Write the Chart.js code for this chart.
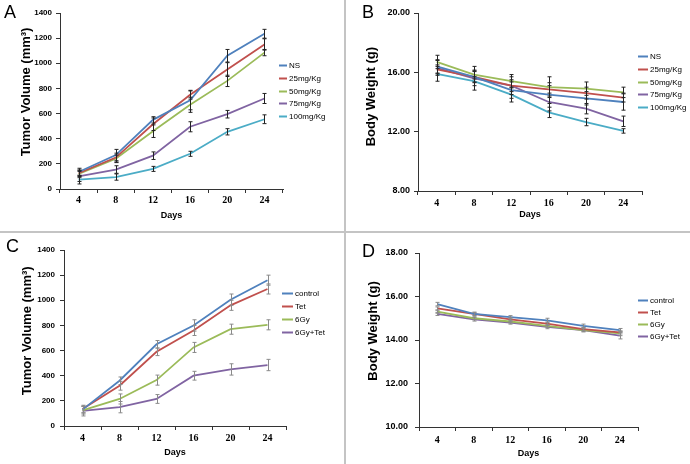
<!DOCTYPE html>
<html>
<head>
<meta charset="utf-8">
<script src="https://cdn.jsdelivr.net/npm/chart.js@4.4.1/dist/chart.umd.min.js"></script>
<style>
  body { margin: 0; background: #fff; }
  #wrap { position: relative; width: 690px; height: 464px; overflow: hidden; }
  #wrap canvas { position: absolute; }
  .letter { position: absolute; font: 18px "Liberation Sans", Arial, sans-serif; line-height: 18px; color: #000; }
  .vline { position: absolute; left: 344px; top: 0; width: 2px; height: 464px; background: #c4c4c4; }
  .hline { position: absolute; left: 0; top: 231px; width: 690px; height: 2px; background: #c4c4c4; }
</style>
</head>
<body>
<div id="wrap">
  <canvas id="chartA" width="345" height="232" style="left:0;top:0"></canvas>
  <canvas id="chartB" width="345" height="232" style="left:345px;top:0"></canvas>
  <canvas id="chartC" width="345" height="232" style="left:0;top:232px"></canvas>
  <canvas id="chartD" width="345" height="232" style="left:345px;top:232px"></canvas>
  <div class="vline"></div>
  <div class="hline"></div>
  <div class="letter" style="left:4px;top:3px">A</div>
  <div class="letter" style="left:362px;top:3px">B</div>
  <div class="letter" style="left:6px;top:237px">C</div>
  <div class="letter" style="left:362px;top:242px">D</div>
</div>
<script>
const days = ["4", "8", "12", "16", "20", "24"];
const doseGroups = ["NS", "25mg/Kg", "50mg/Kg", "75mg/Kg", "100mg/Kg"];
const comboGroups = ["control", "Tet", "6Gy", "6Gy+Tet"];

// A: tumor volume by dose (mm3)
const doseVolume = [
  [135, 270, 550, 705, 1060, 1235],
  [125, 250, 515, 750, 950, 1150],
  [120, 240, 460, 670, 860, 1085],
  [100, 155, 265, 495, 595, 720],
  [75, 95, 160, 280, 455, 555]
];
const doseVolumeErr = [
  [30, 45, 25, 75, 50, 35],
  [25, 35, 50, 35, 55, 45],
  [30, 30, 50, 60, 45, 25],
  [40, 30, 30, 40, 30, 40],
  [35, 25, 20, 20, 25, 35]
];

// B: body weight by dose (g)
const doseWeight = [
  [16.4, 15.7, 14.8, 14.5, 14.25, 14.0],
  [16.2, 15.7, 15.1, 14.85, 14.6, 14.3],
  [16.7, 15.85, 15.4, 15.0, 14.9, 14.65],
  [16.3, 15.6, 15.1, 14.0, 13.55, 12.7],
  [15.9, 15.4, 14.5, 13.3, 12.65, 12.05]
];
const doseWeightErr = [
  [0.45, 0.4, 0.55, 0.6, 0.45, 0.55],
  [0.3, 0.35, 0.4, 0.45, 0.4, 0.3],
  [0.45, 0.3, 0.45, 0.7, 0.45, 0.35],
  [0.5, 0.8, 0.6, 0.6, 0.35, 0.35],
  [0.5, 0.3, 0.5, 0.35, 0.25, 0.15]
];

// C: tumor volume, combination (mm3)
const comboVolume = [
  [130, 360, 650, 800, 1005, 1160],
  [135, 320, 590, 760, 960, 1090],
  [125, 215, 365, 625, 770, 805],
  [120, 150, 215, 400, 450, 485]
];
const comboVolumeErr = [
  [25, 30, 30, 45, 45, 40],
  [30, 35, 30, 40, 40, 40],
  [30, 40, 40, 40, 40, 40],
  [40, 45, 35, 35, 45, 45]
];

// D: body weight, combination (g)
const comboWeight = [
  [15.65, 15.2, 15.05, 14.9, 14.65, 14.45],
  [15.45, 15.2, 14.95, 14.75, 14.5, 14.35],
  [15.3, 15.0, 14.85, 14.65, 14.45, 14.3],
  [15.2, 14.95, 14.8, 14.6, 14.45, 14.2]
];
const comboWeightErr = [
  [0.08, 0.08, 0.07, 0.1, 0.08, 0.08],
  [0.07, 0.07, 0.08, 0.08, 0.07, 0.07],
  [0.07, 0.07, 0.07, 0.07, 0.07, 0.1],
  [0.07, 0.08, 0.07, 0.08, 0.07, 0.15]
];

const colors = ["#4F81BD", "#C0504D", "#9BBB59", "#8064A2", "#4BACC6"];
const axisColor = "#333";
const SANS = "'Liberation Sans', Arial, sans-serif";
const SERIF = "'Liberation Serif', 'Times New Roman', serif";

// vertical error bars drawn through the chart's own scales
const errorBars = {
  id: "errorBars",
  afterDatasetsDraw(chart, args, o) {
    const { ctx, scales: { x, y } } = chart;
    ctx.save();
    ctx.strokeStyle = o.color;
    ctx.lineWidth = 1;
    chart.data.datasets.forEach(ds => {
      ds.data.forEach((v, i) => {
        const e = ds.errors[i];
        const px = Math.round(x.getPixelForValue(i)) + 0.5;
        const top = y.getPixelForValue(v + e);
        const bot = y.getPixelForValue(v - e);
        ctx.beginPath();
        ctx.moveTo(px, top); ctx.lineTo(px, bot);
        ctx.moveTo(px - 2, top); ctx.lineTo(px + 2, top);
        ctx.moveTo(px - 2, bot); ctx.lineTo(px + 2, bot);
        ctx.stroke();
      });
    });
    ctx.restore();
  }
};

// Excel-like legend at the right side
const sideLegend = {
  id: "sideLegend",
  afterDraw(chart, args, o) {
    const ctx = chart.ctx;
    ctx.save();
    ctx.font = "8px " + SANS;
    ctx.textBaseline = "middle";
    ctx.fillStyle = "#000";
    chart.data.datasets.forEach((ds, i) => {
      const y = Math.round(o.y + i * o.gap) + 0.5;
      ctx.strokeStyle = ds.borderColor;
      ctx.lineWidth = 2;
      ctx.beginPath();
      ctx.moveTo(o.x, y);
      ctx.lineTo(o.x + o.len, y);
      ctx.stroke();
      ctx.fillText(ds.label, o.x + o.len + 2, y);
    });
    ctx.restore();
  }
};

function makeChart(id, groups, values, errors, p) {
  const datasets = groups.map((g, i) => ({
    label: g,
    data: values[i],
    errors: errors[i],
    borderColor: colors[i],
    backgroundColor: colors[i],
    borderWidth: 1.8,
    pointRadius: 0,
    tension: 0
  }));

  // leading spaces nudge the rotated title upwards, like the original
  const yTitle = " ".repeat(p.titleShift) + p.yTitle;

  return new Chart(document.getElementById(id), {
    type: "line",
    data: { labels: days, datasets },
    plugins: [errorBars, sideLegend],
    options: {
      responsive: false,
      animation: false,
      layout: { padding: { left: 0, top: p.top, right: p.right, bottom: 0 } },
      plugins: {
        legend: { display: false },
        tooltip: { enabled: false },
        errorBars: { color: p.errColor },
        sideLegend: p.legend
      },
      scales: {
        x: {
          offset: true,
          border: { display: true, color: axisColor, width: 1 },
          grid: { drawOnChartArea: false, offset: true, tickLength: 4, color: axisColor },
          ticks: { color: "#000", padding: p.xTickPad, maxRotation: 0,
                   font: { family: SERIF, size: 10, weight: "bold" } },
          title: { display: true, text: "Days", color: "#000",
                   font: { family: SANS, size: 9, weight: "bold" },
                   padding: { top: 0, bottom: p.daysPad } },
          afterFit(s) { s.height = p.xH; }
        },
        y: {
          min: p.min, max: p.max,
          border: { display: true, color: axisColor, width: 1 },
          grid: { drawOnChartArea: false, tickLength: 4, color: axisColor },
          ticks: { stepSize: p.step, color: "#000", padding: p.yTickPad,
                   font: { family: SANS, size: p.yTickSize, weight: "bold" },
                   callback: v => p.decimals ? v.toFixed(2) : v },
          title: { display: true, text: yTitle, color: "#000",
                   font: { family: SANS, size: 13, weight: "bold" },
                   padding: { top: p.yTitlePad, bottom: 0 } },
          afterFit(s) { s.width = p.yW; }
        }
      }
    }
  });
}

makeChart("chartA", doseGroups, doseVolume, doseVolumeErr, {
  top: 13, right: 62, yW: 60, xH: 43, min: 0, max: 1400, step: 200, decimals: false,
  yTitle: "Tumor Volume (mm³)", titleShift: 5, yTitlePad: 19, yTickSize: 8, yTickPad: 4,
  xTickPad: 1, daysPad: 10.6, errColor: "#222",
  legend: { x: 279, y: 65, gap: 12.8, len: 8 }
});

makeChart("chartB", doseGroups, doseWeight, doseWeightErr, {
  top: 13, right: 48, yW: 73, xH: 41, min: 8, max: 20, step: 4, decimals: true,
  yTitle: "Body Weight (g)", titleShift: 3, yTitlePad: 19, yTickSize: 9, yTickPad: 4,
  xTickPad: 2, daysPad: 11.6, errColor: "#222",
  legend: { x: 293, y: 56, gap: 12.75, len: 10 }
});

makeChart("chartC", comboGroups, comboVolume, comboVolumeErr, {
  top: 18, right: 59, yW: 64, xH: 38, min: 0, max: 1400, step: 200, decimals: false,
  yTitle: "Tumor Volume (mm³)", titleShift: 4, yTitlePad: 20, yTickSize: 8, yTickPad: 5,
  xTickPad: 2, daysPad: 5.6, errColor: "#8a8a8a",
  legend: { x: 282, y: 61, gap: 13, len: 11 }
});

makeChart("chartD", comboGroups, comboWeight, comboWeightErr, {
  top: 21, right: 52, yW: 74, xH: 37, min: 10, max: 18, step: 2, decimals: true,
  yTitle: "Body Weight (g)", titleShift: 5, yTitlePad: 21, yTickSize: 9, yTickPad: 7,
  xTickPad: 3, daysPad: 4.6, errColor: "#8a8a8a",
  legend: { x: 293, y: 68, gap: 12, len: 10 }
});
</script>
</body>
</html>
